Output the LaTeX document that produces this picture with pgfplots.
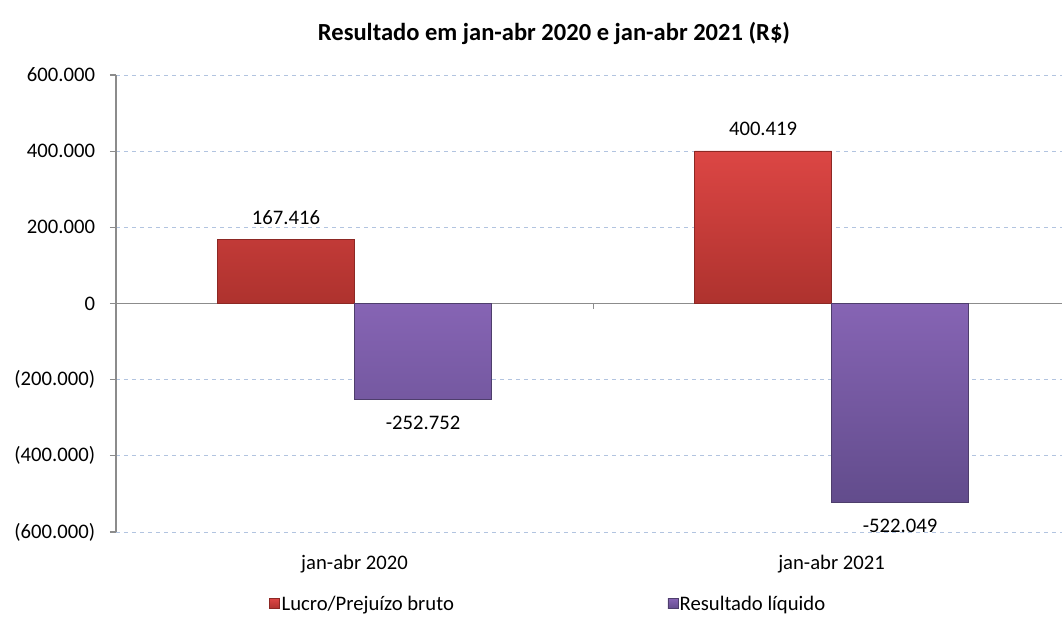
\documentclass[border=0pt]{standalone}
\usepackage{pgfplots}
\pgfplotsset{compat=1.18}
\usepackage{fontspec}
\setmainfont{Carlito}
\definecolor{redtop}{RGB}{220,70,68}
\definecolor{redbot}{RGB}{174,50,46}
\definecolor{rededge}{RGB}{140,40,36}
\definecolor{purtop}{RGB}{134,100,180}
\definecolor{purbot}{RGB}{98,76,140}
\definecolor{puredge}{RGB}{78,62,108}
\definecolor{gridc}{RGB}{178,196,224}
\begin{document}
\begin{tikzpicture}[x=1pt,y=1pt]
\path[use as bounding box] (-87,-69) rectangle (709.5,399);
\begin{axis}[
  at={(0,0)}, anchor=south west,
  scale only axis, width=709.5pt, height=342.75pt,
  xmin=-0.5, xmax=1.483,
  ymin=-600000, ymax=600000,
  ybar=0pt, bar width=102.75pt,
  axis x line*=bottom, axis y line*=left,
  x axis line style={draw=none},
  y axis line style={draw=gray!90, line width=0.8pt, -},
  xtick={0,1}, xticklabels={jan-abr 2020, jan-abr 2021},
  xtick style={draw=none},
  major x tick style={draw=none},
  ytick={-600000,-400000,-200000,0,200000,400000,600000},
  yticklabels={(600.000),(400.000),(200.000),0,200.000,400.000,600.000},
  scaled y ticks=false,
  ytick pos=left, tick align=outside, major tick length=4.5pt,
  ytick style={draw=gray!90, line width=0.8pt},
  ymajorgrids, major grid style={dashed, gridc, line width=0.7pt},
  tick label style={font=\fontsize{15.5}{18}\selectfont},
  yticklabel style={anchor=east, inner sep=0pt, xshift=-11pt},
  xticklabel style={inner sep=0pt, yshift=-13pt},
  legend style={at={(0.4567,-0.1575)}, anchor=center, draw=none, fill=none,
    legend columns=2, font=\fontsize{15.5}{18}\selectfont,
    /tikz/every even column/.append style={column sep=159.25pt},
    nodes={inner sep=1pt}},
  legend image code/.code={\path[#1] (0pt,-3.5pt) rectangle (7.5pt,4pt);},
]
\draw[gray!90, line width=0.8pt] (axis cs:-0.5,0) -- (axis cs:1.483,0);
\draw[gray!90, line width=0.8pt] (axis cs:0.5,0) -- ([yshift=-4.5pt]axis cs:0.5,0);
\addplot[draw=rededge, line width=0.6pt,
  top color=redtop, bottom color=redbot,
  nodes near coords, point meta=explicit symbolic,
  nodes near coords style={anchor=south, inner sep=0pt, yshift=11pt, font=\fontsize{15.5}{18}\selectfont, text=black}]
  coordinates {(0,167416) [167.416] (1,400419) [400.419]};
\addlegendentry{Lucro/Prejuízo bruto}
\addplot[draw=puredge, line width=0.6pt,
  top color=purtop, bottom color=purbot,
  nodes near coords, point meta=explicit symbolic,
  nodes near coords style={anchor=north, inner sep=0pt, yshift=-12pt, font=\fontsize{15.5}{18}\selectfont, text=black}]
  coordinates {(0,-252752) [-252.752] (1,-522049) [-522.049]};
\addlegendentry{Resultado líquido}
\end{axis}
\node[font=\bfseries\fontsize{18.4}{22}\selectfont] at (328.5,374.25) {Resultado em jan-abr 2020 e jan-abr 2021 (R\$)};
\end{tikzpicture}
\end{document}
